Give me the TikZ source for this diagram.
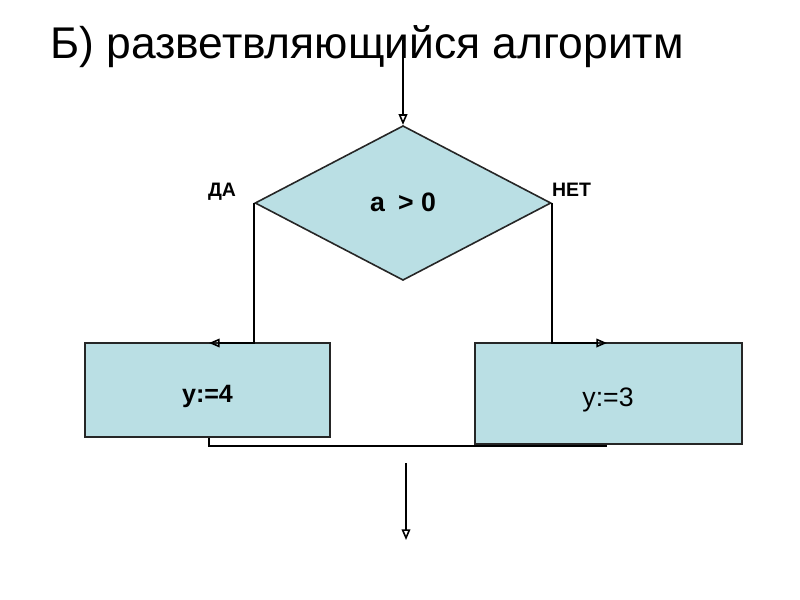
\documentclass[tikz,border=0pt]{standalone}
\usepackage{fontspec}
\setmainfont{Liberation Sans}
\usepackage{xcolor}
\usepackage{tikz}
\usetikzlibrary{arrows.meta,positioning,shapes.geometric}

\definecolor{blokfon}{RGB}{186,223,228}

\begin{document}
\begin{tikzpicture}[
    x=0.75pt, y=-0.75pt,
    blok/.style={draw=black!85, line width=1.2pt, fill=blokfon, inner sep=0pt},
    uslovie/.style={draw=black!85, line width=1.2pt, fill=blokfon, diamond,
        inner sep=0pt, minimum width=222pt, minimum height=116pt},
    nadpis/.style={anchor=base, inner sep=0pt},
    otvet/.style={nadpis, font=\fontsize{14.6}{17}\selectfont\bfseries},
    potok/.style={-{Triangle[open, length=8pt, width=6.5pt, line width=1.2pt]}, line width=1.2pt},
    liniya/.style={line width=1.2pt}
]
    \useasboundingbox (0,0) rectangle (800,600);

    \node[anchor=base west, inner sep=0pt, font=\fontsize{33.3}{38}\selectfont]
        (zagolovok) at (50,58) {Б) разветвляющийся алгоритм};

    \node[uslovie] (uslovie) at (403,203) {};
    \node[nadpis, font=\fontsize{20}{24}\selectfont\bfseries] (znak) at (403,211) {a\enspace> 0};
    \node[otvet] (da) at (222,196) {ДА};
    \node[otvet] (net) at (571.5,196) {НЕТ};

    \node[blok, minimum width=183.75pt, minimum height=70.5pt] (vetvida) at (207.5,390) {};
    \node[blok, minimum width=200.25pt, minimum height=75.75pt] (vetvinet) at (608.5,393.5) {};
    \node[nadpis, font=\fontsize{18.8}{22}\selectfont\bfseries] (y4) at (207.5,402) {y:=4};
    \node[nadpis, font=\fontsize{20}{24}\selectfont] (y3) at (608,406) {y:=3};

    \coordinate (vhod) at (403,40);
    \coordinate (konecda) at (209,343);
    \coordinate (konecnet) at (607,343);
    \coordinate (slijanie) at (607,446);
    \coordinate (vyhodnach) at (406,463);
    \coordinate (vyhod) at (406,540);

    \draw[potok] (vhod) -- (uslovie.north);
    \draw[potok] (uslovie.west) |- (konecda);
    \draw[potok] (uslovie.east) |- (konecnet);
    \draw[liniya] (vetvida.south -| konecda) |- (slijanie);
    \draw[potok] (vyhodnach) -- (vyhod);
\end{tikzpicture}
\end{document}
